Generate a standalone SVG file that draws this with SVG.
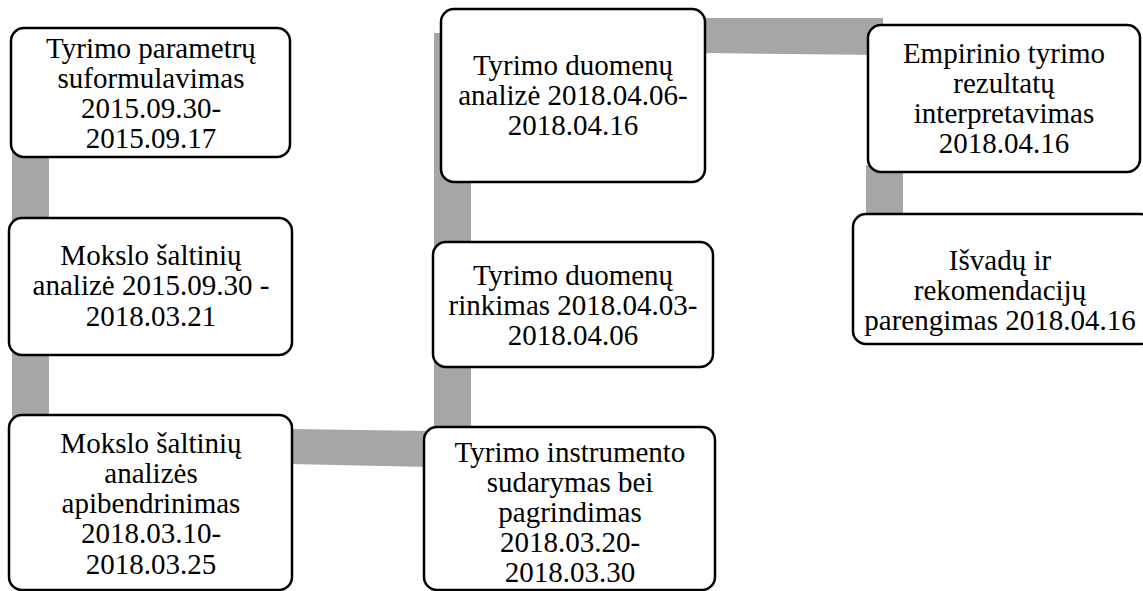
<svg xmlns="http://www.w3.org/2000/svg" width="1143" height="591" viewBox="0 0 1143 591">
<style>
.bar{fill:#a6a6a6;stroke:none}
.box{fill:#ffffff;stroke:#000000;stroke-width:2.5}
text{font-family:"Liberation Serif","Times New Roman",serif;font-size:29px;fill:#000000;text-anchor:middle}
</style>
<rect width="1143" height="591" fill="#ffffff"/>
<g id="connectors">
<rect class="bar" x="12" y="150" width="37" height="270"/>
<polygon class="bar" points="290,429 430,431 430,467 290,464"/>
<rect class="bar" x="434" y="33" width="37" height="400"/>
<polygon class="bar" points="700,18 883,18 883,55 700,53"/>
<rect class="bar" x="866" y="165" width="37" height="55"/>
</g>
<g id="node1">
<rect class="box" x="11" y="28" width="279" height="129" rx="13"/>
<text x="151" y="58">Tyrimo parametrų</text>
<text x="151" y="88">suformulavimas</text>
<text x="151" y="118">2015.09.30-</text>
<text x="151" y="148">2015.09.17</text>
</g>
<g id="node2">
<rect class="box" x="9" y="218" width="283" height="137" rx="13"/>
<text x="151" y="265">Mokslo šaltinių</text>
<text x="151" y="295">analizė 2015.09.30 -</text>
<text x="151" y="326">2018.03.21</text>
</g>
<g id="node3">
<rect class="box" x="9" y="415" width="283" height="175" rx="13"/>
<text x="151" y="453">Mokslo šaltinių</text>
<text x="151" y="483">analizės</text>
<text x="151" y="513">apibendrinimas</text>
<text x="151" y="543">2018.03.10-</text>
<text x="151" y="574">2018.03.25</text>
</g>
<g id="node4">
<rect class="box" x="424" y="427" width="291" height="163" rx="13"/>
<text x="570" y="462">Tyrimo instrumento</text>
<text x="570" y="492">sudarymas bei</text>
<text x="570" y="522">pagrindimas</text>
<text x="570" y="552">2018.03.20-</text>
<text x="570" y="582">2018.03.30</text>
</g>
<g id="node5">
<rect class="box" x="433" y="242" width="280" height="125" rx="13"/>
<text x="573" y="285">Tyrimo duomenų</text>
<text x="573" y="315">rinkimas 2018.04.03-</text>
<text x="573" y="345">2018.04.06</text>
</g>
<g id="node6">
<rect class="box" x="441" y="9" width="264" height="173" rx="13"/>
<text x="573" y="75">Tyrimo duomenų</text>
<text x="573" y="105">analizė 2018.04.06-</text>
<text x="573" y="135">2018.04.16</text>
</g>
<g id="node7">
<rect class="box" x="868" y="25" width="272" height="147" rx="13"/>
<text x="1004" y="63">Empirinio tyrimo</text>
<text x="1004" y="93">rezultatų</text>
<text x="1004" y="123">interpretavimas</text>
<text x="1004" y="153">2018.04.16</text>
</g>
<g id="node8">
<rect class="box" x="853" y="214" width="300" height="130" rx="13"/>
<text x="1000" y="270">Išvadų ir</text>
<text x="1000" y="300">rekomendacijų</text>
<text x="1000" y="330">parengimas 2018.04.16</text>
</g>
</svg>
